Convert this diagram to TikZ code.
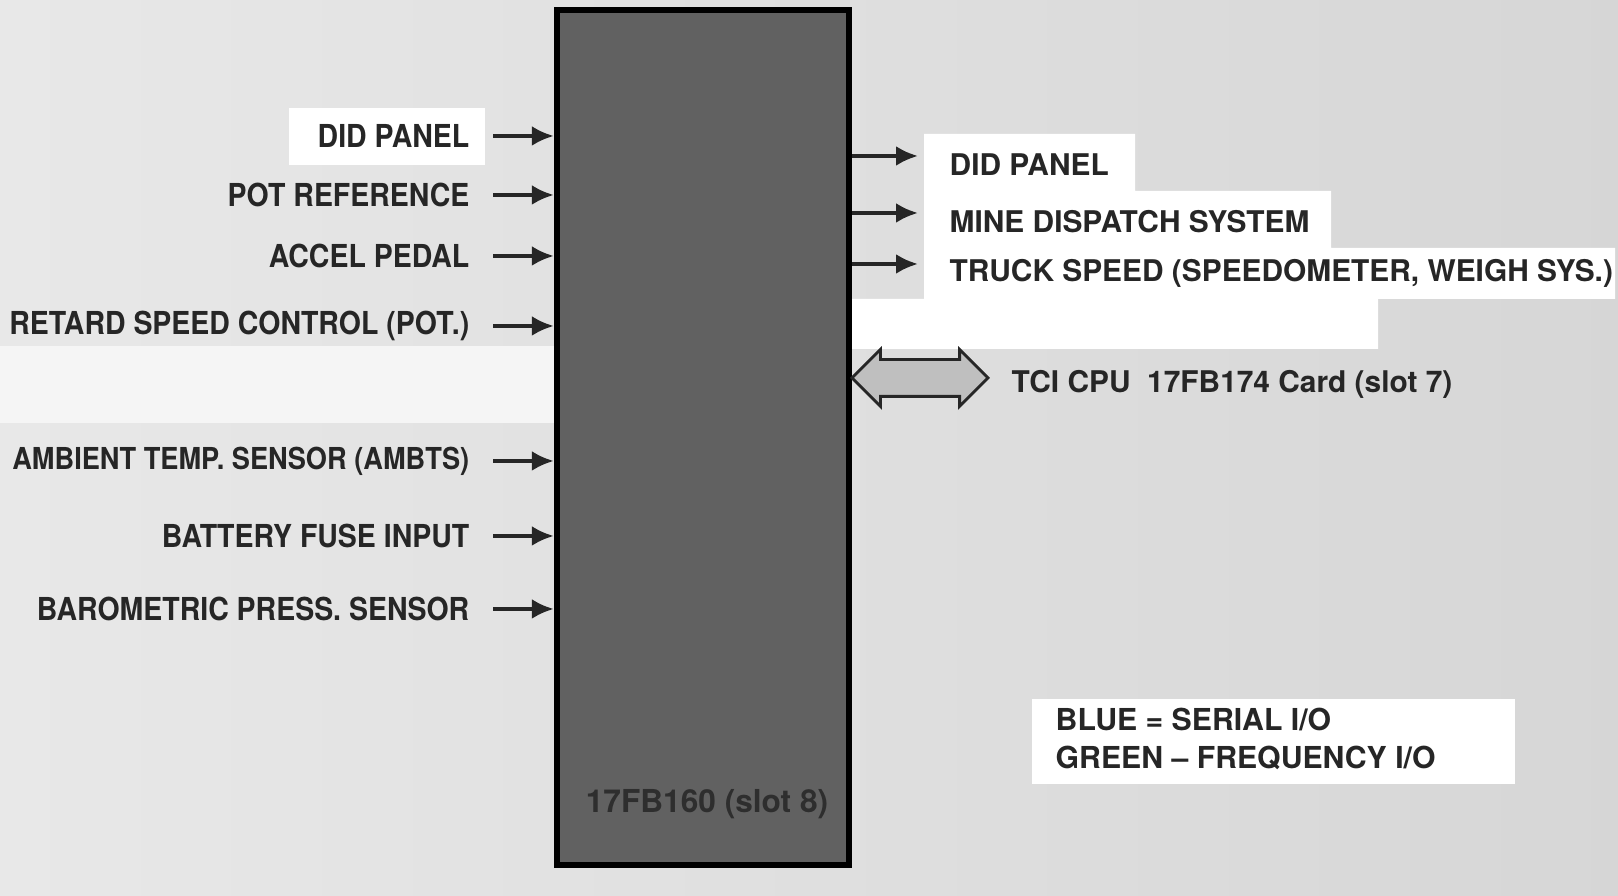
\documentclass[tikz,border=0pt]{standalone}
\usepackage{fontspec}
\setmainfont{TeX Gyre Heros}
\newfontfamily\condfont[FakeStretch=0.9]{TeX Gyre Heros}
\usetikzlibrary{shapes.arrows, arrows.meta}

\begin{document}
\begin{tikzpicture}[
    inlabel/.style={anchor=east, inner sep=0pt, font=\condfont\bfseries\fontsize{9}{10}\selectfont, text=black!85},
    outlabel/.style={anchor=west, inner sep=0pt, font=\bfseries\fontsize{8.5}{10}\selectfont, text=black!85},
    sig/.style={-{Latex[length=2.2mm, width=2mm]}, line width=1.1pt, black!85},
    every node/.style={inner sep=0pt}
  ]
  % Page and scanned background
  \clip (0,0) rectangle (16.18,8.96);
  \shade[left color=gray!18, right color=gray!32] (0,0) rectangle (16.18,8.96);
  \fill[gray!8] (0,4.73) rectangle (5.57,5.50);
  \fill[white] (2.89,7.31) rectangle (4.85,7.88);
  \fill[white] (9.24,7.62) -- (11.35,7.62) -- (11.35,7.05) -- (13.31,7.05)
    -- (13.31,6.48) -- (16.15,6.48) -- (16.15,5.97) -- (13.78,5.97)
    -- (13.78,5.47) -- (8.51,5.47) -- (8.51,5.97) -- (9.24,5.97) -- cycle;
  \fill[white] (10.32,1.12) rectangle (15.15,1.97);

  % Card
  \node[draw=black, line width=1.8pt, fill=black!62, minimum width=2.92cm,
        minimum height=8.55cm] (card) at (7.03,4.585) {};
  \node[text=black!82, font=\bfseries\fontsize{9}{11}\selectfont] (cardname) at (7.07,0.92) {17FB160 (slot 8)};

  % Inputs
  \node[inlabel] (in1) at (4.70,7.60) {DID PANEL};
  \node[inlabel] (in2) at (4.70,7.01) {POT REFERENCE};
  \node[inlabel] (in3) at (4.70,6.40) {ACCEL PEDAL};
  \node[inlabel] (in4) at (4.70,5.70) {RETARD SPEED CONTROL (POT.)};
  \node[inlabel, font=\condfont\bfseries\fontsize{8.6}{10}\selectfont] (in5) at (4.70,4.35) {AMBIENT TEMP. SENSOR (AMBTS)};
  \node[inlabel] (in6) at (4.70,3.60) {BATTERY FUSE INPUT};
  \node[inlabel] (in7) at (4.70,2.87) {BAROMETRIC PRESS. SENSOR};
  \foreach \i in {1,...,7}
    \draw[sig, shorten <=2.3mm] (in\i.east) -- (in\i.east -| card.west);

  % Outputs
  \node[outlabel] (out1) at (9.49,7.31) {DID PANEL};
  \node[outlabel] (out2) at (9.49,6.74) {MINE DISPATCH SYSTEM};
  \node[outlabel] (out3) at (9.49,6.23) {TRUCK SPEED (SPEEDOMETER, WEIGH SYS.)};
  \foreach \i in {1,2,3}
    \draw[sig] ([yshift=0.9mm]card.east |- out\i.west) -- ([yshift=0.9mm, xshift=-3.1mm]out\i.west);

  % CPU link
  \node[double arrow, draw=black!85, thick, fill=gray!50, inner xsep=0.3cm, inner ysep=0.17cm,
        minimum height=1.36cm, double arrow head extend=0.1cm,
        double arrow head indent=0pt] (link) at (9.20,5.18) {};
  \node[outlabel] (cpu) at (10.11,5.12) {TCI CPU\ \ 17FB174 Card (slot 7)};

  % Legend
  \node[outlabel, align=left, font=\bfseries\fontsize{8.6}{10.8}\selectfont] (legend) at (10.55,1.57)
    {BLUE = SERIAL I/O\\GREEN -- FREQUENCY I/O};
\end{tikzpicture}
\end{document}
